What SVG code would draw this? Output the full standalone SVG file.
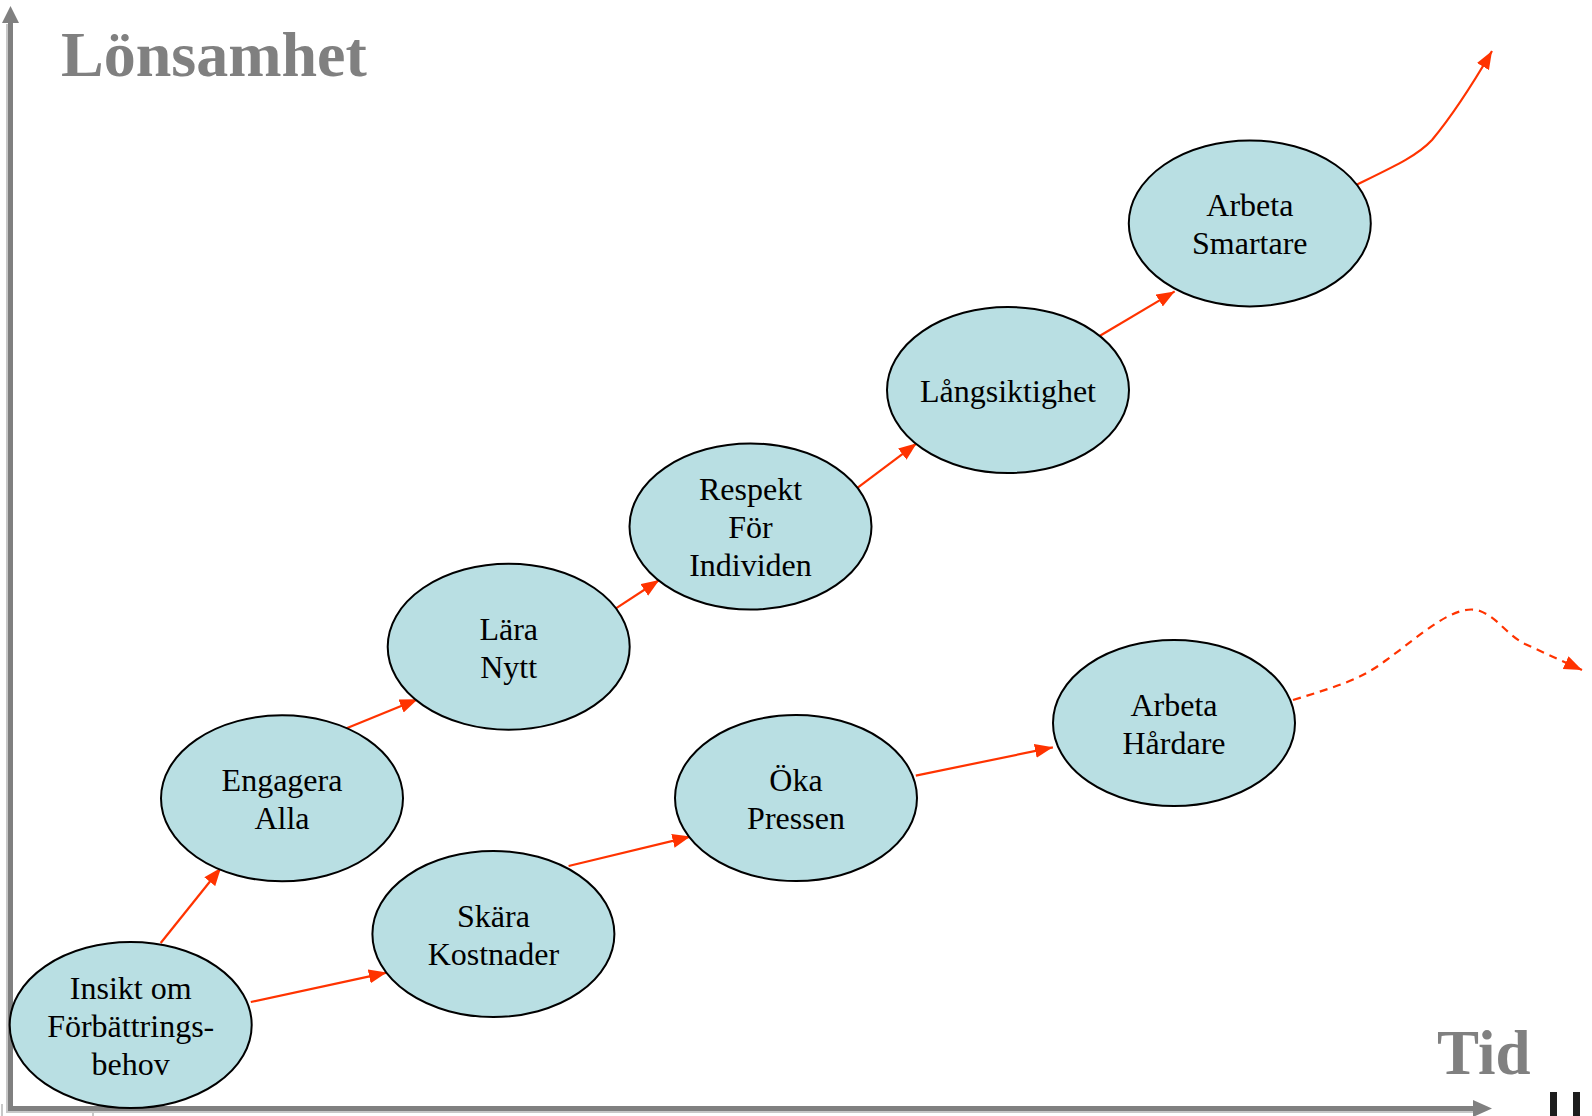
<svg xmlns="http://www.w3.org/2000/svg" width="1592" height="1116" viewBox="0 0 1592 1116">
<defs>
<marker id="ah" markerUnits="userSpaceOnUse" markerWidth="19" markerHeight="15" refX="18" refY="7" orient="auto">
<path d="M0,0 L18,7 L0,14 z" fill="#FF3300"/>
</marker>
<style>
.node ellipse{fill:#B9DFE3;stroke:#000;stroke-width:2}
.node text{font-family:"Liberation Serif","Times New Roman",serif;font-size:32px;fill:#000;text-anchor:middle}
.title{font-family:"Liberation Serif","Times New Roman",serif;font-weight:bold;fill:#808080}
.conn{fill:none;stroke:#FF3300;stroke-width:2.2;marker-end:url(#ah)}
.axis{stroke:#808080;stroke-width:5;fill:none}
.shadow{stroke:#C8C8C8;stroke-width:2;fill:none}
</style>
</defs>
<rect width="1592" height="1116" fill="#fff"/>
<g id="axes">
<path class="shadow" d="M7,24 V1112 H1478"/>
<path class="shadow" d="M2,1104 V1116 M93,1111 V1116"/>
<path class="axis" d="M10.5,20 V1108.5 H1476"/>
<path d="M10.5,6 L19,23 L2,23 z" fill="#808080"/>
<path d="M1492,1108.5 L1473,1100 L1473,1117 z" fill="#808080"/>
<text class="title" x="61" y="76" font-size="64">Lönsamhet</text>
<text class="title" x="1437" y="1074" font-size="63">Tid</text>
<rect x="1550" y="1092" width="7" height="24" fill="#1E1E1E"/>
<rect x="1573" y="1092" width="7" height="24" fill="#1E1E1E"/>
</g>
<g id="connectors">
<path class="conn" d="M160.7,943 L221,867.7"/>
<path class="conn" d="M342.3,730 L417.7,699.3"/>
<path class="conn" d="M616.3,608.2 L659.3,580"/>
<path class="conn" d="M856.7,488.3 L916.7,443.3"/>
<path class="conn" d="M1099.6,336 L1174.7,291.4"/>
<path class="conn" d="M1356,185 C1395,166 1417,156 1432,140 C1452,116 1475,80 1492,51"/>
<path class="conn" d="M250.8,1002 L386.8,972.6"/>
<path class="conn" d="M568.6,866 L690.4,836.6"/>
<path class="conn" d="M915.8,775.7 L1052.9,747.3"/>
<path class="conn" stroke-dasharray="8,6" d="M1293,700 C1335,687 1360,680 1385,661 C1420,636 1455,602 1480,611 C1498,618 1506,634 1525,644 L1582,670"/>
</g>
<g id="n-insikt" class="node">
<ellipse cx="130.7" cy="1025" rx="121" ry="83"/>
<text x="130.7" y="998.7">Insikt om</text>
<text x="130.7" y="1036.7">Förbättrings-</text>
<text x="130.7" y="1075">behov</text>
</g>
<g id="n-engagera" class="node">
<ellipse cx="282" cy="798.3" rx="121" ry="83"/>
<text x="282" y="791">Engagera</text>
<text x="282" y="829">Alla</text>
</g>
<g id="n-lara" class="node">
<ellipse cx="508.7" cy="646.7" rx="121" ry="83"/>
<text x="508.7" y="639.5">Lära</text>
<text x="508.7" y="677.5">Nytt</text>
</g>
<g id="n-respekt" class="node">
<ellipse cx="750.5" cy="526.5" rx="121" ry="83"/>
<text x="750.5" y="500">Respekt</text>
<text x="750.5" y="538">För</text>
<text x="750.5" y="576">Individen</text>
</g>
<g id="n-langsiktighet" class="node">
<ellipse cx="1008" cy="390" rx="121" ry="83"/>
<text x="1008" y="402">Långsiktighet</text>
</g>
<g id="n-smartare" class="node">
<ellipse cx="1249.8" cy="223.4" rx="121" ry="83"/>
<text x="1249.8" y="216">Arbeta</text>
<text x="1249.8" y="254">Smartare</text>
</g>
<g id="n-skara" class="node">
<ellipse cx="493.4" cy="934" rx="121" ry="83"/>
<text x="493.4" y="926.7">Skära</text>
<text x="493.4" y="964.7">Kostnader</text>
</g>
<g id="n-oka" class="node">
<ellipse cx="796" cy="798" rx="121" ry="83"/>
<text x="796" y="790.7">Öka</text>
<text x="796" y="828.7">Pressen</text>
</g>
<g id="n-hardare" class="node">
<ellipse cx="1174" cy="723" rx="121" ry="83"/>
<text x="1174" y="715.7">Arbeta</text>
<text x="1174" y="753.7">Hårdare</text>
</g>
</svg>
